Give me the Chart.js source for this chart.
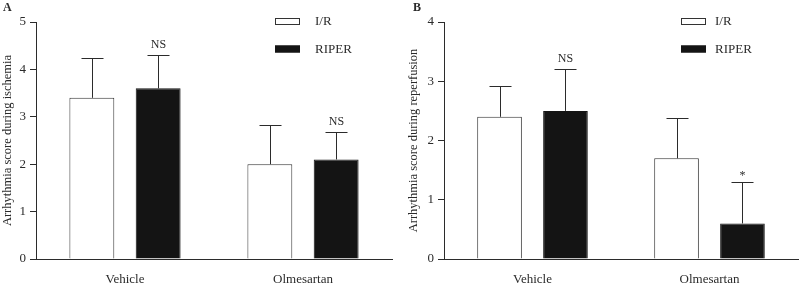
<!DOCTYPE html>
<html lang="en">
<head>
<meta charset="UTF-8">
<title>Arrhythmia score during ischemia and reperfusion</title>
<script src="https://cdn.jsdelivr.net/npm/chart.js"></script>
<style>
  body { margin: 0; background: #fff; }
  #wrap { position: relative; width: 800px; height: 284px; }
  canvas { position: absolute; top: 0; }
  #chartA { left: 0; }
  #chartB { left: 400px; }
</style>
</head>
<body>
<div id="wrap">
  <canvas id="chartA" width="400" height="284"></canvas>
  <canvas id="chartB" width="400" height="284"></canvas>
</div>
<script>
const categories = ['Vehicle', 'Olmesartan'];
const seriesNames = ['I/R', 'RIPER'];

// panel A - ischemia
const ischemiaIR = [3.4, 2.0];
const ischemiaIRErr = [0.83, 0.82];
const ischemiaRiper = [3.6, 2.1];
const ischemiaRiperErr = [0.7, 0.57];
const ischemiaMarks = ['NS', 'NS'];
const ischemiaTicks = [0, 1, 2, 3, 4, 5];

// panel B - reperfusion
const reperfIR = [2.4, 1.7];
const reperfIRErr = [0.52, 0.68];
const reperfRiper = [2.5, 0.6];
const reperfRiperErr = [0.71, 0.7];
const reperfMarks = ['NS', '*'];
const reperfTicks = [0, 1, 2, 3, 4];

const serif = "'Liberation Serif', 'Times New Roman', serif";
const ink = '#2b2b2b';

// error bars, significance marks, legend and panel letter
const extras = {
    id: 'extras',
    afterDatasetsDraw(chart, args, opts) {
        const ctx = chart.ctx;
        const y = chart.scales.y;
        ctx.save();
        ctx.strokeStyle = ink;
        ctx.lineWidth = 1;
        chart.data.datasets.forEach((ds, i) => {
            const meta = chart.getDatasetMeta(i);
            meta.data.forEach((bar, j) => {
                const top = y.getPixelForValue(ds.data[j] + opts.errors[i][j]);
                const x = Math.round(bar.x) + 0.5;
                const t = Math.round(top) + 0.5;
                ctx.beginPath();
                ctx.moveTo(x, bar.y);
                ctx.lineTo(x, t);
                ctx.moveTo(x - 11, t);
                ctx.lineTo(x + 11, t);
                ctx.stroke();
                const mark = opts.marks[i][j];
                if (mark) {
                    ctx.fillStyle = ink;
                    ctx.font = '12px ' + serif;
                    ctx.textAlign = 'center';
                    ctx.textBaseline = 'alphabetic';
                    ctx.fillText(mark, x, top - (mark === '*' ? 3 : 7));
                }
            });
        });

        // legend
        chart.data.datasets.forEach((ds, i) => {
            const by = opts.legendY + i * 27.5;
            ctx.fillStyle = ds.backgroundColor;
            ctx.fillRect(opts.legendX, by, 25, 7);
            ctx.strokeStyle = ds.borderColor;
            ctx.strokeRect(opts.legendX + 0.5, by + 0.5, 24, 6);
            ctx.fillStyle = ink;
            ctx.font = '13px ' + serif;
            ctx.textAlign = 'left';
            ctx.textBaseline = 'middle';
            ctx.fillText(ds.label, 315, by + 4);
        });

        ctx.font = 'bold 12px ' + serif;
        ctx.fillStyle = ink;
        ctx.textAlign = 'left';
        ctx.textBaseline = 'top';
        ctx.fillText(opts.letter, opts.letterX, 2);
        ctx.restore();
    }
};

function makeChart(id, ir, riper, irErr, riperErr, marks, ticks, title, axisWidth, padRight, legendX, letter, letterX, titlePad) {
    return new Chart(document.getElementById(id), {
        type: 'bar',
        data: {
            labels: categories,
            datasets: [
                { label: seriesNames[0], data: ir, backgroundColor: '#ffffff', borderColor: '#333333', borderWidth: 1 },
                { label: seriesNames[1], data: riper, backgroundColor: '#141414', borderColor: '#141414', borderWidth: 1 }
            ]
        },
        options: {
            responsive: false,
            animation: false,
            categoryPercentage: 0.745,
            barPercentage: 0.677,
            layout: { padding: { top: 22, right: padRight, left: 0, bottom: 0 } },
            scales: {
                x: {
                    grid: { display: false, drawTicks: false },
                    border: { display: true, color: ink, width: 1 },
                    ticks: { color: ink, padding: 13, font: { family: serif, size: 13 } },
                    afterFit: s => { s.height = 25; }
                },
                y: {
                    min: 0,
                    max: ticks[ticks.length - 1],
                    afterBuildTicks: s => { s.ticks = ticks.map(v => ({ value: v })); },
                    grid: { drawOnChartArea: false, drawTicks: true, tickLength: 6, color: ink },
                    border: { display: true, color: ink, width: 1 },
                    ticks: { color: ink, padding: 4, font: { family: serif, size: 13 } },
                    title: { display: true, text: title, color: ink, padding: titlePad, font: { family: serif, size: 12.5 } },
                    afterFit: s => { s.width = axisWidth; }
                }
            },
            plugins: {
                legend: { display: false },
                tooltip: { enabled: false },
                extras: {
                    errors: [irErr, riperErr],
                    marks: [['', ''], marks],
                    legendX: legendX,
                    legendY: 18,
                    letter: letter,
                    letterX: letterX
                }
            }
        },
        plugins: [extras]
    });
}

makeChart('chartA', ischemiaIR, ischemiaRiper, ischemiaIRErr, ischemiaRiperErr, ischemiaMarks, ischemiaTicks,
    'Arrhythmia score during ischemia', 36, 8, 275, 'A', 3, { top: 0, bottom: 0 });
makeChart('chartB', reperfIR, reperfRiper, reperfIRErr, reperfRiperErr, reperfMarks, reperfTicks,
    'Arrhythmia score during reperfusion', 44, 2, 281, 'B', 13, { top: 6, bottom: 0 });
</script>
</body>
</html>
